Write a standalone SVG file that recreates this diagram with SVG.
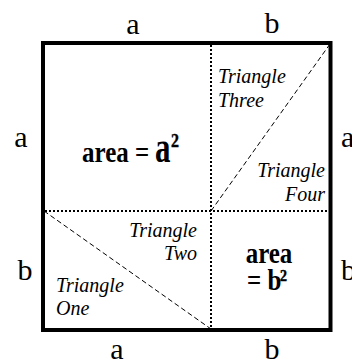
<svg xmlns="http://www.w3.org/2000/svg" width="352" height="362" viewBox="0 0 352 362">
  <style>
    .lbl { font-family: "Liberation Serif", "Times New Roman", "DejaVu Serif", serif; font-size: 30px; fill: #000; }
    .tri { font-family: "Liberation Serif", "Times New Roman", "DejaVu Serif", serif; font-style: italic; font-size: 20px; fill: #000; }
    .area { font-family: "Liberation Serif", "Times New Roman", "DejaVu Serif", serif; font-weight: bold; font-size: 25px; fill: #000; }
    .sup { font-family: "Liberation Serif", "Times New Roman", "DejaVu Serif", serif; font-weight: bold; fill: #000; stroke: #000; stroke-width: 0.4; }
    .dot { stroke: #000; stroke-width: 2; stroke-dasharray: 2 2; fill: none; }
    .dash { stroke: #000; stroke-width: 1; stroke-dasharray: 5 3; fill: none; }
  </style>
  <rect width="352" height="362" fill="#fff"/>
  <g id="connectors">
    <line class="dot" x1="211" y1="45" x2="211" y2="328"/>
    <line class="dot" x1="45" y1="211" x2="328" y2="211"/>
    <line class="dash" x1="330" y1="44" x2="211" y2="211"/>
    <line class="dash" x1="44" y1="211" x2="211" y2="329"/>
  </g>
  <g id="square">
    <rect x="43" y="43" width="287.5" height="287" fill="none" stroke="#000" stroke-width="4"/>
  </g>
  <g id="labels">
    <text class="lbl" x="133" y="34" text-anchor="middle">a</text>
    <text class="lbl" x="272" y="33" text-anchor="middle">b</text>
    <text class="lbl" x="21" y="147" text-anchor="middle">a</text>
    <text class="lbl" x="341" y="147">a</text>
    <text class="lbl" x="25" y="280" text-anchor="middle">b</text>
    <text class="lbl" x="341" y="280">b</text>
    <text class="lbl" x="117" y="359" text-anchor="middle">a</text>
    <text class="lbl" x="272" y="359" text-anchor="middle">b</text>
  </g>
  <g id="area-a">
    <g transform="translate(82,162) scale(1,1.22)"><text class="area" x="0" y="0">area =</text></g>
    <g transform="translate(155,162) scale(1,1.45)"><text class="area" x="0" y="0" style="font-size:31px">a</text></g>
    <g transform="translate(171,147) scale(1,1.15)"><text class="sup" x="0" y="0" style="font-size:16px">2</text></g>
  </g>
  <g id="area-b">
    <g transform="translate(269,263) scale(1,1.22)"><text class="area" x="0" y="0" text-anchor="middle">area</text></g>
    <g transform="translate(247,290) scale(1,1.22)"><text class="area" x="0" y="0">= b</text></g>
    <g transform="translate(280,281) scale(1,1.15)"><text class="sup" x="0" y="0" style="font-size:14px">2</text></g>
  </g>
  <g id="triangle-one">
    <text class="tri" x="56" y="292">Triangle</text>
    <text class="tri" x="56" y="315">One</text>
  </g>
  <g id="triangle-two">
    <text class="tri" x="197" y="237" text-anchor="end">Triangle</text>
    <text class="tri" x="197" y="260" text-anchor="end">Two</text>
  </g>
  <g id="triangle-three">
    <text class="tri" x="218" y="83">Triangle</text>
    <text class="tri" x="218" y="107">Three</text>
  </g>
  <g id="triangle-four">
    <text class="tri" x="325" y="177" text-anchor="end">Triangle</text>
    <text class="tri" x="325" y="201" text-anchor="end">Four</text>
  </g>
</svg>
